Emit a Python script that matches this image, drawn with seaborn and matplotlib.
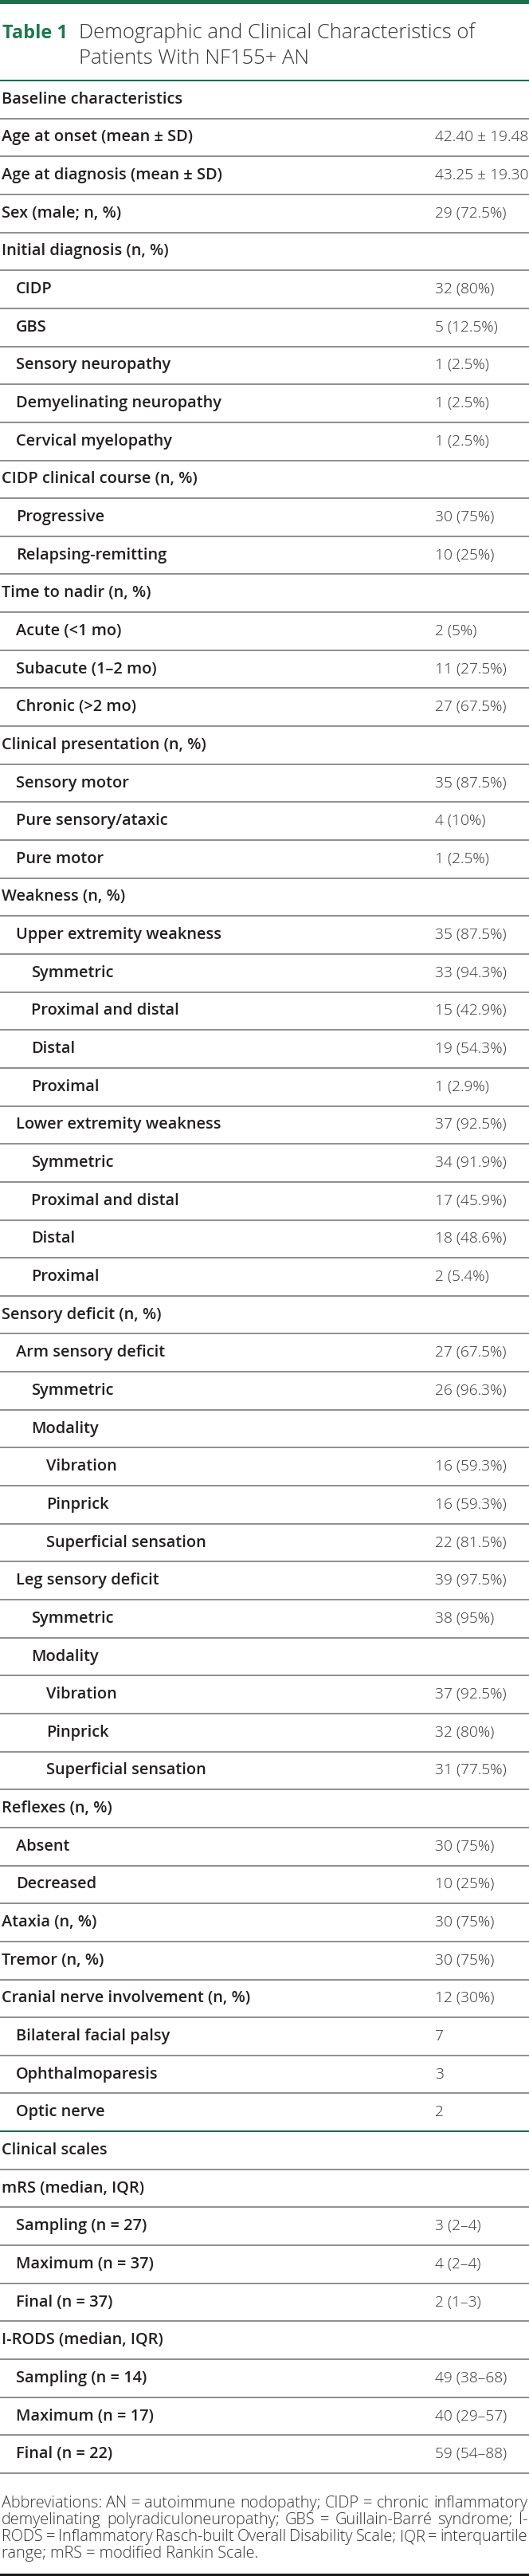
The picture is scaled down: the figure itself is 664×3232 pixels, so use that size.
import matplotlib
matplotlib.use("Agg")
import matplotlib.pyplot as plt
import seaborn as sns

# %% table content
title_tag = "Table 1"
title_lines = ["Demographic and Clinical Characteristics of",
               "Patients With NF155+ AN"]

row_labels = [
    "Baseline characteristics",
    "Age at onset (mean ± SD)",
    "Age at diagnosis (mean ± SD)",
    "Sex (male; n, %)",
    "Initial diagnosis (n, %)",
    "CIDP",
    "GBS",
    "Sensory neuropathy",
    "Demyelinating neuropathy",
    "Cervical myelopathy",
    "CIDP clinical course (n, %)",
    "Progressive",
    "Relapsing-remitting",
    "Time to nadir (n, %)",
    "Acute (<1 mo)",
    "Subacute (1–2 mo)",
    "Chronic (>2 mo)",
    "Clinical presentation (n, %)",
    "Sensory motor",
    "Pure sensory/ataxic",
    "Pure motor",
    "Weakness (n, %)",
    "Upper extremity weakness",
    "Symmetric",
    "Proximal and distal",
    "Distal",
    "Proximal",
    "Lower extremity weakness",
    "Symmetric",
    "Proximal and distal",
    "Distal",
    "Proximal",
    "Sensory deficit (n, %)",
    "Arm sensory deficit",
    "Symmetric",
    "Modality",
    "Vibration",
    "Pinprick",
    "Superficial sensation",
    "Leg sensory deficit",
    "Symmetric",
    "Modality",
    "Vibration",
    "Pinprick",
    "Superficial sensation",
    "Reflexes (n, %)",
    "Absent",
    "Decreased",
    "Ataxia (n, %)",
    "Tremor (n, %)",
    "Cranial nerve involvement (n, %)",
    "Bilateral facial palsy",
    "Ophthalmoparesis",
    "Optic nerve",
    "Clinical scales",
    "mRS (median, IQR)",
    "Sampling (n = 27)",
    "Maximum (n = 37)",
    "Final (n = 37)",
    "I-RODS (median, IQR)",
    "Sampling (n = 14)",
    "Maximum (n = 17)",
    "Final (n = 22)",
]

row_values = [
    "", "42.40 ± 19.48", "43.25 ± 19.30", "29 (72.5%)",
    "", "32 (80%)", "5 (12.5%)", "1 (2.5%)", "1 (2.5%)", "1 (2.5%)",
    "", "30 (75%)", "10 (25%)",
    "", "2 (5%)", "11 (27.5%)", "27 (67.5%)",
    "", "35 (87.5%)", "4 (10%)", "1 (2.5%)",
    "", "35 (87.5%)", "33 (94.3%)", "15 (42.9%)", "19 (54.3%)", "1 (2.9%)",
    "37 (92.5%)", "34 (91.9%)", "17 (45.9%)", "18 (48.6%)", "2 (5.4%)",
    "", "27 (67.5%)", "26 (96.3%)", "", "16 (59.3%)", "16 (59.3%)", "22 (81.5%)",
    "39 (97.5%)", "38 (95%)", "", "37 (92.5%)", "32 (80%)", "31 (77.5%)",
    "", "30 (75%)", "10 (25%)",
    "30 (75%)", "30 (75%)", "12 (30%)", "7", "3", "2",
    "", "", "3 (2–4)", "4 (2–4)", "2 (1–3)",
    "", "49 (38–68)", "40 (29–57)", "59 (54–88)",
]

row_levels = [
    0, 0, 0, 0,
    0, 1, 1, 1, 1, 1,
    0, 1, 1,
    0, 1, 1, 1,
    0, 1, 1, 1,
    0, 1, 2, 2, 2, 2,
    1, 2, 2, 2, 2,
    0, 1, 2, 2, 3, 3, 3,
    1, 2, 2, 3, 3, 3,
    0, 1, 1,
    0, 0, 0, 1, 1, 1,
    0, 0, 1, 1, 1,
    0, 1, 1, 1,
]

green_rule_before = ["Clinical scales"]

footnote_lines = [
    "Abbreviations: AN = autoimmune nodopathy; CIDP = chronic inflammatory",
    "demyelinating polyradiculoneuropathy; GBS = Guillain-Barré syndrome; I-",
    "RODS = Inflammatory Rasch-built Overall Disability Scale; IQR = interquartile",
    "range; mRS = modified Rankin Scale.",
]

# %% style
GREEN = "#1c6e4c"
GREEN_TXT = "#20774f"
RULE = "#707070"
TXT = "#231f20"
TXT_LIGHT = "#333333"

W, H = 664, 3232
TABLE_TOP = 101
TABLE_BOTTOM = 3103
ROW_H = (TABLE_BOTTOM - TABLE_TOP) / len(row_labels)
INDENT = [2, 20, 39, 58]
VALUE_X = 546

sns.set_theme(style="white")
plt.rcParams["font.family"] = ["Open Sans", "DejaVu Sans"]

fig = plt.figure(figsize=(W / 100, H / 100), dpi=100, facecolor="white")
ax = fig.add_axes([0, 0, 1, 1])
ax.set_xlim(0, W)
ax.set_ylim(H, 0)
ax.axis("off")
sns.despine(ax=ax, left=True, bottom=True)
renderer = fig.canvas.get_renderer()


def fit_size(sample, target_px, weight):
    # font size (pt) that gives the sample string the width seen in the picture
    t = ax.text(0, 0, sample, fontsize=10, fontweight=weight)
    w = t.get_window_extent(renderer).width
    t.remove()
    return 10 * target_px / w


TITLE_TAG_FS = fit_size(title_tag, 82, "bold")
TITLE_FS = fit_size(title_lines[0], 496, "light")
LABEL_FS = fit_size("Cranial nerve involvement (n, %)", 312, "semibold")
VALUE_FS = fit_size("42.40 ± 19.48", 117, "light")
FOOT_FS = fit_size(footnote_lines[-1], 323, "light")

# top bar and title
ax.axhspan(0, 5, color=GREEN, lw=0)
ax.text(3, 48, title_tag, fontsize=TITLE_TAG_FS, fontweight="bold",
        color=GREEN_TXT, va="baseline", ha="left")
for i, line in enumerate(title_lines):
    ax.text(99, 48 + i * 32, line, fontsize=TITLE_FS, fontweight="light",
            color=TXT_LIGHT, va="baseline", ha="left")

ax.axhline(TABLE_TOP, color=GREEN, lw=1.5)

# rows
for i, (lab, val, lev) in enumerate(zip(row_labels, row_values, row_levels)):
    top = TABLE_TOP + i * ROW_H
    yc = top + ROW_H / 2
    if i > 0:
        if lab in green_rule_before:
            ax.axhline(top, color=GREEN, lw=1.5)
        else:
            ax.axhline(top, color=RULE, lw=1.1)
    ax.text(INDENT[lev], yc, lab, fontsize=LABEL_FS, fontweight="semibold",
            color=TXT, va="center", ha="left")
    if val:
        ax.text(VALUE_X, yc, val, fontsize=VALUE_FS, fontweight="light",
                color=TXT_LIGHT, va="center", ha="left")
ax.axhline(TABLE_BOTTOM, color=RULE, lw=1.1)

# footnote, justified except the last line
FOOT_X0, FOOT_X1 = 2, 662
for j, line in enumerate(footnote_lines):
    yb = 3146 + j * 21
    words = line.split(" ")
    if j == len(footnote_lines) - 1:
        ax.text(FOOT_X0, yb, line, fontsize=FOOT_FS, fontweight="light",
                color=TXT_LIGHT, va="baseline", ha="left")
        continue
    arts = [ax.text(0, yb, w, fontsize=FOOT_FS, fontweight="light",
                    color=TXT_LIGHT, va="baseline", ha="left") for w in words]
    widths = [a.get_window_extent(renderer).width for a in arts]
    gap = (FOOT_X1 - FOOT_X0 - sum(widths)) / (len(words) - 1)
    x = FOOT_X0
    for a, w in zip(arts, widths):
        a.set_x(x)
        x += w + gap

ax.axhspan(3229, H, color="#1a1a1a", lw=0)

fig.savefig("out.png", dpi=100, facecolor="white")
